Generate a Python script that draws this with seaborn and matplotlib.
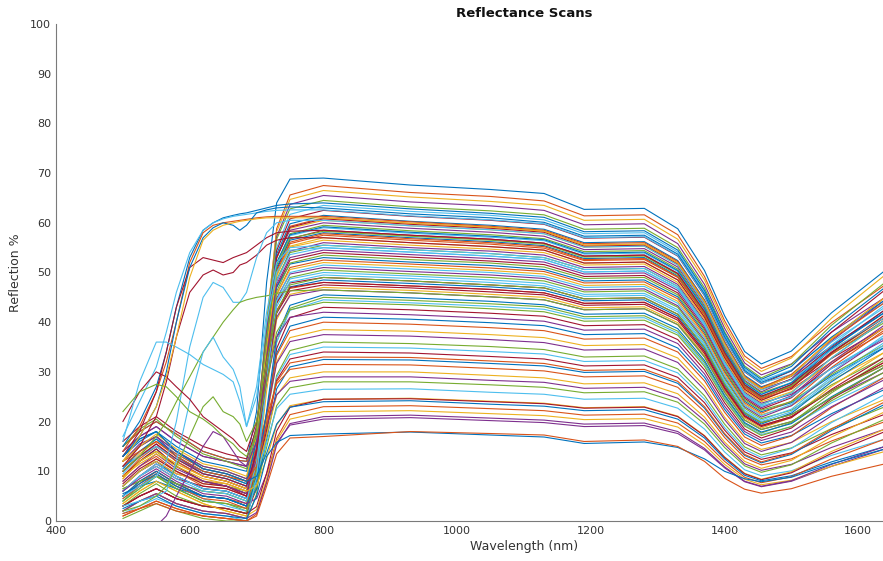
import matplotlib
matplotlib.use("Agg")
import matplotlib.pyplot as plt
import pandas as pd
import seaborn as sns

# ---------------- data ----------------
normal_wavelengths = [500, 525, 550, 580, 620, 655, 685, 700, 715, 730, 750,
                      800, 930, 1050, 1130, 1190, 1280, 1330, 1370, 1400, 1430, 1455, 1500, 1560, 1640]

special_wavelengths = [500, 525, 550, 565, 580, 600, 620, 635, 650, 665, 675, 685, 700, 715, 730, 750,
                       800, 930, 1050, 1130, 1190, 1280, 1330, 1370, 1400, 1430, 1455, 1500, 1560, 1640]

scans_high_nir = [
    [15, 18, 20, 17.5, 14, 12.5, 12, 22, 48, 64, 68.8, 69, 67.6, 66.7, 65.9, 62.7, 62.9, 58.8, 50.4, 41.3, 34.1, 31.6, 34.2, 41.9, 50.4],
    [8, 11, 13, 10, 7, 6.5, 5, 15.6, 39.4, 58.8, 65.6, 67.5, 66.1, 65.3, 64.4, 61.4, 61.6, 57.6, 49.2, 40.3, 33.2, 30.7, 33.1, 39.9, 47.5],
    [10, 13.5, 16, 13, 10, 9, 7.5, 17.5, 40, 58.2, 64.7, 66.5, 65.2, 64.3, 63.5, 60.5, 60.7, 56.7, 48.5, 39.6, 32.5, 30.1, 32.8, 40.8, 49.5],
    [7, 10, 12, 9.5, 8, 7.5, 6, 16.1, 38.7, 57.2, 63.7, 65.5, 64.2, 63.4, 62.5, 59.6, 59.8, 55.8, 47.6, 38.8, 31.8, 29.4, 31.6, 38.0, 45.0],
    [12, 15, 17, 14, 11, 10, 8.5, 18, 39.3, 56.7, 62.8, 64.5, 63.2, 62.4, 61.6, 58.7, 58.9, 55.0, 46.9, 38.1, 31.2, 28.8, 31.5, 39.4, 48.0],
    [4, 6.5, 9, 6.5, 4, 3.5, 2.5, 12.9, 36.1, 55, 61.7, 63.5, 62.3, 61.5, 60.6, 57.8, 58.0, 54.1, 46.1, 37.4, 30.6, 28.2, 30.4, 36.9, 44.0],
    [6, 9, 11.5, 9, 6.5, 6, 4.5, 14.4, 36.4, 54.4, 60.8, 62.5, 61.3, 60.5, 59.7, 56.9, 57.1, 53.3, 45.3, 36.7, 30.0, 27.6, 30.2, 38.0, 46.5],
    [9, 12, 14.5, 11, 8, 7, 5.5, 15, 36.3, 53.7, 59.8, 61.5, 60.3, 59.5, 58.7, 56.0, 56.2, 52.4, 44.5, 36.1, 29.3, 27.0, 29.1, 35.3, 42.0],
    [5, 8, 10, 7.5, 5, 4.5, 3, 12.9, 34.9, 52.9, 59.3, 61, 59.9, 59.1, 58.3, 55.5, 55.7, 51.9, 44.1, 35.6, 28.9, 26.6, 29.2, 36.7, 45.0],
    [8.5, 12, 14, 11.5, 9, 8, 6.5, 15.7, 36.2, 52.9, 58.9, 60.5, 59.4, 58.6, 57.8, 55.1, 55.3, 51.5, 43.7, 35.4, 28.7, 26.4, 28.4, 34.4, 41.0],
    [14, 17, 19, 16, 13, 12, 11, 19.3, 38, 53.1, 58.5, 60, 58.9, 58.1, 57.3, 54.6, 54.8, 51.1, 43.3, 34.9, 28.3, 26.0, 28.6, 36.2, 44.5],
    [6.5, 8, 9, 7.5, 6, 5.5, 4, 13.4, 34.5, 51.7, 57.8, 59.5, 58.4, 57.6, 56.8, 54.2, 54.4, 50.7, 43.0, 34.7, 28.1, 25.8, 27.8, 33.6, 40.0],
    [11, 13, 15, 12.5, 9.5, 8.5, 7, 15.8, 35.6, 51.7, 57.4, 59, 57.9, 57.1, 56.4, 53.7, 53.9, 50.2, 42.5, 34.2, 27.7, 25.4, 27.9, 35.4, 43.5],
    [3, 5, 6.5, 4.5, 3, 2.5, 1.5, 11.2, 32.9, 50.5, 56.8, 58.5, 57.5, 56.7, 55.9, 53.3, 53.5, 49.8, 42.1, 33.9, 27.4, 25.1, 27.0, 32.7, 39.0],
    [13, 16.5, 18, 14, 10.5, 9.5, 8, 16.5, 35.5, 51, 56.5, 58, 57.0, 56.2, 55.4, 52.8, 53.0, 49.3, 41.8, 33.6, 27.1, 24.9, 27.4, 34.6, 42.5],
    [1, 2.5, 4, 2.5, 1, 0.5, 0, 9.8, 31.6, 49.5, 55.8, 57.5, 56.5, 55.7, 54.9, 52.4, 52.6, 49.0, 41.4, 33.3, 26.8, 24.6, 26.5, 32.0, 38.0],
    [3.5, 6, 8, 6, 3.5, 2, 1, 10.5, 31.8, 49.2, 55.3, 57, 56.0, 55.2, 54.5, 51.9, 52.1, 48.5, 41.0, 32.9, 26.5, 24.3, 26.7, 33.8, 41.5],
    [2, 4, 5.5, 3.5, 2, 1.5, 0.5, 9.9, 31, 48.2, 54.3, 56, 55.0, 54.3, 53.5, 51.0, 51.2, 47.6, 40.2, 32.2, 25.9, 23.7, 25.5, 30.7, 36.5],
    [9, 12, 14, 11, 8, 7, 6, 14.4, 33.2, 48.6, 54, 55.5, 54.6, 53.8, 53.0, 50.6, 50.8, 47.2, 39.8, 31.9, 25.6, 23.4, 25.8, 32.8, 40.5],
    [11, 14, 16.5, 13.5, 10.5, 9.5, 8, 16, 33.9, 48.4, 53.6, 55, 54.1, 53.3, 52.6, 50.1, 50.3, 46.8, 39.4, 31.5, 25.3, 23.1, 25.0, 30.7, 37.0],
    [6, 9, 11, 8.5, 7, 6.5, 5, 13.3, 32, 47.1, 52.5, 54, 53.1, 52.3, 51.6, 49.2, 49.4, 45.9, 38.6, 30.8, 24.7, 22.5, 24.8, 31.6, 39.0],
    [13, 16, 18, 15, 12, 11, 10, 17.3, 33.7, 47, 51.7, 53, 52.1, 51.4, 50.6, 48.3, 48.5, 45.1, 37.9, 30.2, 24.1, 22.0, 23.8, 29.2, 35.0],
    [5, 7.5, 10, 7.5, 5, 4.5, 3.5, 11.8, 30.5, 45.6, 51, 52.5, 51.7, 50.9, 50.2, 47.9, 48.1, 44.7, 37.5, 29.9, 23.8, 21.7, 24.1, 30.9, 38.5],
    [7, 10, 12.5, 10, 7.5, 7, 5.5, 13.4, 31.1, 45.5, 50.6, 52, 51.2, 50.4, 49.7, 47.4, 47.6, 44.2, 37.1, 29.5, 23.5, 21.4, 23.2, 28.3, 34.0],
    [10, 13, 15.5, 12, 9, 8, 6.5, 14.1, 31, 44.8, 49.7, 51, 50.2, 49.5, 48.8, 46.5, 46.7, 43.3, 36.4, 28.9, 23.0, 20.9, 23.2, 29.8, 37.0],
    [4, 7, 9, 6.5, 4, 3.5, 2, 10.2, 28.7, 43.7, 49, 50.5, 49.7, 49.0, 48.3, 46.1, 46.3, 43.0, 36.0, 28.6, 22.7, 20.6, 22.3, 27.4, 33.0],
    [9.5, 13, 15, 12.5, 10, 9, 7.5, 14.7, 30.9, 44.1, 48.7, 50, 49.3, 48.5, 47.8, 45.6, 45.8, 42.5, 35.6, 28.2, 22.3, 20.3, 22.5, 28.9, 36.0],
    [16, 19, 21, 18, 15, 13.5, 12.5, 18.7, 32.6, 43.9, 47.9, 49, 48.3, 47.5, 46.9, 44.7, 44.9, 41.6, 34.9, 27.6, 21.8, 19.8, 21.4, 26.2, 31.5],
    [5.5, 7, 8, 6.5, 5, 4.5, 3, 10.7, 28, 42.1, 47.1, 48.5, 47.8, 47.1, 46.4, 44.3, 44.5, 41.2, 34.5, 27.3, 21.5, 19.5, 21.7, 28.0, 35.0],
    [12, 14, 16, 13.5, 10.5, 9.5, 8, 14.8, 30, 42.4, 46.8, 48, 47.3, 46.6, 45.9, 43.8, 44.0, 40.8, 34.1, 26.9, 21.2, 19.2, 21.0, 26.2, 32.0],
    [2, 4, 5.5, 3.5, 2, 1.5, 0.5, 8.4, 26.1, 40.5, 45.6, 47, 46.4, 45.6, 45.0, 42.9, 43.1, 39.9, 33.3, 26.3, 20.7, 18.7, 20.8, 27.1, 34.0],
    [12, 15.5, 17, 13, 9.5, 8.5, 7, 13.7, 28.7, 41, 45.3, 46.5, 45.9, 45.1, 44.5, 42.5, 42.7, 39.5, 33.0, 25.9, 20.3, 18.4, 20.0, 24.8, 30.0],
]

scans_mid_nir = [
    [0.5, 2, 3.5, 2, 0.5, 0, 0, 5.4, 20.3, 36, 42.8, 45, 44.4, 43.7, 43.1, 41.1, 41.3, 38.2, 31.9, 25.0, 19.6, 17.7, 19.8, 25.8, 32.5],
    [4.5, 7, 9, 7, 4.5, 3, 2, 7.1, 21.1, 36, 42.4, 44.5, 43.9, 43.2, 42.6, 40.7, 40.9, 37.8, 31.5, 24.7, 19.3, 17.4, 19.0, 23.8, 29.0],
    [3, 5, 6.5, 4.5, 3, 2.5, 1.5, 6.5, 20.2, 34.7, 40.9, 43, 42.5, 41.8, 41.2, 39.3, 39.5, 36.5, 30.4, 23.8, 18.5, 16.7, 18.7, 24.6, 31.0],
    [7, 10, 12, 9, 6.5, 6, 4.5, 8.9, 20.9, 33.7, 39.2, 41, 40.6, 39.9, 39.3, 37.5, 37.7, 34.8, 28.9, 22.5, 17.5, 15.7, 17.2, 21.6, 26.5],
    [9, 12.5, 15, 12, 9, 8, 6.5, 10.5, 21.6, 33.3, 38.3, 40, 39.6, 38.9, 38.3, 36.6, 36.8, 34.0, 28.2, 21.9, 16.9, 15.2, 17.1, 22.8, 29.0],
    [7, 10, 12, 9.5, 8, 7.5, 6, 9.9, 20.6, 32, 36.9, 38.5, 38.2, 37.5, 36.9, 35.3, 35.5, 32.8, 27.1, 20.9, 16.1, 14.4, 15.8, 20.0, 24.5],
    [12, 15, 17, 14, 11, 10, 8.5, 12, 21.6, 31.7, 36.1, 37.5, 37.2, 36.5, 35.9, 34.4, 34.6, 31.9, 26.4, 20.4, 15.6, 14.0, 15.8, 21.2, 27.0],
    [4, 6.5, 9, 6.5, 4, 3.5, 2.5, 6.5, 17.6, 29.3, 34.3, 36, 35.7, 35.1, 34.5, 33.0, 33.2, 30.6, 25.2, 19.5, 14.9, 13.3, 14.7, 18.6, 23.0],
    [6, 9, 11.5, 9, 6.5, 6, 4.5, 8.2, 18.2, 28.9, 33.5, 35, 34.8, 34.1, 33.6, 32.1, 32.3, 29.8, 24.5, 18.8, 14.4, 12.8, 14.6, 19.8, 25.5],
    [9, 12, 14.5, 11, 8, 7, 5.5, 8.9, 18.3, 28.3, 32.6, 34, 33.8, 33.1, 32.6, 31.2, 31.4, 28.9, 23.8, 18.3, 13.9, 12.4, 13.7, 17.4, 21.5],
    [5, 8, 10, 7.5, 5, 4.5, 3, 6.5, 16.3, 26.6, 31, 32.5, 32.4, 31.7, 31.2, 29.9, 30.1, 27.7, 22.7, 17.4, 13.2, 11.7, 13.4, 18.2, 23.5],
    [15, 18, 20, 17.5, 14, 12.5, 12, 14.3, 20.8, 27.6, 30.5, 31.5, 31.4, 30.7, 30.2, 29.0, 29.2, 26.9, 22.0, 16.8, 12.7, 11.3, 12.5, 16.1, 20.0],
    [8.5, 12, 14, 11.5, 9, 8, 6.5, 9.3, 17.1, 25.3, 28.8, 30, 30.0, 29.3, 28.8, 27.6, 27.8, 25.6, 20.9, 15.9, 12.0, 10.6, 12.2, 16.9, 22.0],
    [14, 17, 19, 16, 13, 12, 11, 13.2, 19.1, 25.4, 28.1, 29, 29.0, 28.3, 27.9, 26.7, 26.9, 24.7, 20.2, 15.4, 11.5, 10.2, 11.4, 14.8, 18.5],
    [6.5, 8, 9, 7.5, 6, 5.5, 4, 6.9, 14.8, 23.2, 26.8, 28, 28.0, 27.4, 26.9, 25.8, 26.0, 23.9, 19.5, 14.8, 11.1, 9.8, 11.3, 15.7, 20.5],
    [11, 13, 15, 12.5, 9.5, 8.5, 7, 9.3, 15.8, 22.6, 25.5, 26.5, 26.6, 25.9, 25.5, 24.5, 24.7, 22.7, 18.5, 13.9, 10.3, 9.1, 10.1, 13.2, 16.5],
]

scans_extra = [
    [7.5, 10.5, 12.5, 10, 7.5, 7, 5, 14.5, 35.7, 53, 59.1, 60.8, 59.7, 58.9, 58.1, 55.3, 55.5, 51.7, 43.9, 35.5, 28.8, 26.5, 28.5, 35.0, 42.5],
    [10.5, 14, 16.5, 13, 10, 9, 7.5, 16.3, 35.9, 52, 57.6, 59.2, 58.1, 57.3, 56.6, 53.9, 54.1, 50.4, 42.7, 34.4, 27.8, 25.5, 27.8, 34.8, 42.0],
    [4.5, 7, 9.5, 7, 4.5, 4, 2.5, 11.9, 32.9, 50.1, 56.1, 57.8, 56.8, 56.0, 55.2, 52.6, 52.8, 49.1, 41.6, 33.4, 27.0, 24.7, 27.0, 33.5, 40.5],
    [12, 15, 17.5, 14.5, 11.5, 10.5, 9, 17.1, 35.1, 49.9, 55.1, 56.5, 55.5, 54.7, 54.0, 51.5, 51.7, 48.0, 40.6, 32.5, 26.2, 24.0, 26.0, 32.0, 39.0],
    [8, 11, 13.5, 10.5, 8, 7, 5.5, 13.8, 32.5, 47.6, 53, 54.5, 53.6, 52.8, 52.1, 49.7, 49.9, 46.4, 39.0, 31.2, 25.0, 22.8, 25.2, 32.0, 39.5],
    [3, 5.5, 7.5, 5, 3, 2.5, 1.5, 10.3, 30.1, 46.2, 51.9, 53.5, 52.6, 51.9, 51.1, 48.8, 49.0, 45.5, 38.3, 30.5, 24.4, 22.3, 24.0, 29.5, 35.5],
    [6, 9, 11, 8.5, 6, 5.5, 4, 11.7, 29, 43.1, 48.1, 49.5, 48.8, 48.0, 47.3, 45.2, 45.4, 42.1, 35.3, 27.9, 22.0, 20.0, 22.0, 28.5, 35.5],
    [10, 13, 15.5, 12.5, 9.5, 8.5, 7, 13.9, 29.3, 41.8, 46.3, 47.5, 46.9, 46.1, 45.5, 43.4, 43.6, 40.4, 33.7, 26.6, 21.0, 19.0, 20.8, 26.5, 33.0],
    [5, 7.5, 9.5, 7, 5, 4.5, 3, 8.1, 22.1, 37, 43.4, 45.5, 44.9, 44.2, 43.5, 41.6, 41.8, 38.7, 32.3, 25.3, 19.8, 17.9, 19.6, 25.0, 31.0],
    [11, 14, 16, 13, 10, 9, 8, 11, 19.3, 28, 31.8, 33, 32.9, 32.2, 31.7, 30.3, 30.5, 28.1, 23.0, 17.6, 13.4, 11.9, 13.6, 18.5, 24.0],
    [9, 11.5, 13.5, 11, 8.5, 7.5, 6, 7.1, 12.5, 19.3, 23.2, 24.5, 24.7, 24.1, 23.7, 22.8, 23.0, 21.1, 17.2, 12.9, 9.6, 8.4, 9.9, 14.0, 18.5],
    [6, 8.5, 10.5, 8, 5.5, 5, 3.5, 4.5, 9.5, 15.7, 19.3, 20.5, 20.8, 20.2, 19.8, 19.0, 19.2, 17.6, 14.3, 10.7, 7.9, 6.9, 8.0, 11.0, 14.5],
    [15, 18.5, 20.5, 17, 13.5, 12, 10.5, 18.6, 36.8, 51.6, 56.9, 58.3, 57.3, 56.5, 55.7, 53.1, 53.3, 49.6, 41.9, 33.8, 27.3, 25.0, 27.2, 33.8, 41.0],
    [1.5, 3, 4.5, 3, 1.5, 1, 0, 8.8, 28.3, 44.3, 50, 51.5, 50.7, 50.0, 49.2, 47.0, 47.2, 43.8, 36.8, 29.2, 23.3, 21.2, 23.5, 30.0, 37.5],
]

scans_low_nir = [
    [3, 5, 6.5, 4.5, 3, 2.5, 1.5, 2.9, 9.6, 18.1, 22.9, 24.5, 24.6, 24.0, 23.6, 22.7, 22.9, 21.0, 17.1, 12.8, 9.5, 8.3, 9.7, 13.6, 18.0],
    [13, 16.5, 18, 14, 10.5, 9.5, 8, 9, 13.6, 19.5, 22.9, 24, 24.2, 23.5, 23.1, 22.2, 22.4, 20.5, 16.7, 12.5, 9.2, 8.1, 9.1, 11.9, 15.0],
    [1, 2.5, 4, 2.5, 1, 0.5, 0, 1.4, 8.1, 16.6, 21.4, 23, 23.2, 22.6, 22.2, 21.3, 21.5, 19.7, 16.0, 12.0, 8.8, 7.7, 8.9, 12.5, 16.5],
    [3.5, 6, 8, 6, 3.5, 2, 1, 2.3, 8.4, 16.1, 20.5, 22, 22.2, 21.6, 21.2, 20.4, 20.6, 18.9, 15.3, 11.4, 8.4, 7.3, 8.2, 11.0, 14.0],
    [2, 4, 5.5, 3.5, 2, 1.5, 0.5, 1.7, 7.7, 15.3, 19.6, 21, 21.3, 20.7, 20.3, 19.5, 19.7, 18.0, 14.6, 10.9, 8.0, 7.0, 8.1, 11.4, 15.0],
    [2.5, 4, 5, 3, 1.5, 1, 0.5, 5, 13, 15.8, 17.2, 17.5, 17.9, 17.3, 16.9, 15.6, 15.9, 14.8, 12.5, 10.0, 8.5, 7.9, 8.8, 11.5, 14.5],
    [1.5, 2.5, 3.5, 2, 1, 0.5, 0, 1, 7, 13.5, 16.7, 17, 18.0, 17.6, 17.3, 16.0, 16.3, 15.0, 12.0, 8.6, 6.4, 5.6, 6.5, 9.0, 11.5],
]

scans_visible_anomalies = [
    [15, 20, 27, 34, 43, 53, 58.5, 60, 61, 61.5, 61.8, 62, 62.5, 63, 63.5, 63.8, 64, 62.8, 61.9, 61.1, 58.2, 58.4, 54.5, 46.4, 37.8, 30.9, 28.5, 31.1, 38.7, 47.0],
    [17, 24, 31, 38, 46, 54, 58.5, 60, 60.8, 61.3, 61.5, 61.7, 62, 62.3, 62.5, 62.6, 62.6, 61.4, 60.6, 59.8, 57.0, 57.2, 53.4, 45.4, 36.8, 30.1, 27.7, 29.5, 36.0, 43.0],
    [14, 19, 26, 32, 40, 52, 58, 59.5, 60, 60.3, 60.5, 60.7, 61, 61.2, 61.3, 61.3, 61.3, 60.2, 59.3, 58.5, 55.8, 56.0, 52.2, 44.3, 35.9, 29.1, 26.8, 29.5, 36.5, 44.0],
    [13, 18, 26, 34, 43, 51, 53, 52.5, 52, 53, 53.5, 54, 55.5, 57, 58, 58.3, 58.5, 57.5, 56.7, 55.9, 53.3, 53.5, 49.8, 42.1, 33.9, 27.4, 25.1, 27.5, 34.0, 41.0],
    [11, 15, 21, 28, 37, 46, 49.5, 50.5, 49.5, 50, 51.5, 52, 53.5, 55.5, 56.5, 57, 57, 56.0, 55.2, 54.5, 51.9, 52.1, 48.5, 41.0, 32.9, 26.5, 24.3, 26.7, 33.8, 41.5],
    [5, 7, 9, 12, 20, 35, 45, 48, 47, 44, 44, 46, 53, 58, 60, 60.5, 60.5, 59.4, 58.6, 57.8, 55.1, 55.3, 51.5, 43.7, 35.4, 28.7, 26.4, 28.4, 34.4, 41.0],
    [10, 13, 17, 20, 24, 29, 34, 37, 40, 42.5, 44, 44.5, 45, 45.3, 45.8, 46.3, 46.5, 45.9, 45.1, 44.5, 42.5, 42.7, 39.5, 33.0, 25.9, 20.3, 18.4, 20.0, 24.8, 31.0],
    [3, 4, 5, 6, 12, 24, 34, 37, 33, 30.5, 27, 19, 27, 42, 52, 55, 55.5, 54.6, 53.8, 53.0, 50.6, 50.8, 47.2, 39.8, 31.9, 25.6, 23.4, 25.8, 32.8, 40.5],
    [20, 26, 30, 29, 27, 24.5, 21, 19.5, 18, 16.5, 15, 14, 20, 32, 42, 47, 48, 47.3, 46.6, 45.9, 43.8, 44.0, 40.8, 34.1, 26.9, 21.2, 19.2, 21.0, 26.2, 32.0],
    [2, 3, 5, 7, 11, 17, 23, 25, 22, 21, 19.5, 16, 20, 32, 42, 47.5, 49, 48.3, 47.5, 46.9, 44.7, 44.9, 41.6, 34.9, 27.6, 21.8, 19.8, 21.4, 26.2, 31.5],
    [-2, -2, -1, 1, 5, 10, 15, 18, 17, 14, 12, 11, 16, 28, 37, 41, 42, 41.5, 40.8, 40.2, 38.4, 38.6, 35.7, 29.6, 23.1, 18.0, 16.2, 17.9, 23.0, 28.5],
    [13, 17, 23, 30, 40, 51, 57, 59, 60, 59.5, 58.5, 59.5, 62, 62.6, 63, 63.2, 63, 61.8, 61.0, 60.1, 57.3, 57.5, 53.7, 45.7, 37.1, 30.3, 27.9, 30.2, 37.0, 44.5],
    [16, 28, 36, 36, 35, 33.5, 31.5, 30.5, 29.5, 28, 24, 19, 25, 40, 50, 54.5, 55, 54.1, 53.3, 52.6, 50.1, 50.3, 46.8, 39.4, 31.5, 25.3, 23.1, 25.0, 30.7, 37.0],
    [22, 26, 27.5, 27, 25, 22, 20.5, 19, 17, 15.5, 14, 13, 17, 28, 38, 42.5, 44, 43.5, 42.7, 42.1, 40.2, 40.4, 37.4, 31.1, 24.4, 19.1, 17.2, 19.0, 24.2, 30.0],
    [12, 17, 23, 29, 37, 49, 56.5, 58.5, 59.5, 60, 60.3, 60.5, 60.8, 61, 61, 61, 61, 59.9, 59.1, 58.3, 55.5, 55.7, 51.9, 44.1, 35.6, 28.9, 26.6, 29.2, 36.7, 45.0],
]

x_ticks = [400, 600, 800, 1000, 1200, 1400, 1600]
y_ticks = [0, 10, 20, 30, 40, 50, 60, 70, 80, 90, 100]

# ---------------- styling ----------------
matlab_colors = ["#0072BD", "#D95319", "#EDB120", "#7E2F8E", "#77AC30", "#4DBEEE", "#A2142F"]
anomaly_colors = ["#0072BD", "#4DBEEE", "#D95319", "#A2142F", "#A2142F", "#4DBEEE", "#77AC30",
                  "#4DBEEE", "#A2142F", "#77AC30", "#7E2F8E", "#0072BD", "#4DBEEE", "#77AC30", "#EDB120"]

records = []
palette = {}
normal_scans = scans_high_nir + scans_mid_nir + scans_extra + scans_low_nir
for i, vals in enumerate(normal_scans):
    assert len(vals) == len(normal_wavelengths), (i, len(vals))
    name = f"scan{i:03d}"
    palette[name] = matlab_colors[i % 7]
    for w, v in zip(normal_wavelengths, vals):
        records.append((name, w, v))
# the two lowest scans: blue and orange as in the reference
palette[f"scan{len(normal_scans)-2:03d}"] = "#0072BD"
palette[f"scan{len(normal_scans)-1:03d}"] = "#D95319"
for j, vals in enumerate(scans_visible_anomalies):
    assert len(vals) == len(special_wavelengths), (j, len(vals))
    name = f"anom{j:03d}"
    palette[name] = anomaly_colors[j]
    for w, v in zip(special_wavelengths, vals):
        records.append((name, w, v))

df = pd.DataFrame(records, columns=["scan", "wavelength", "reflectance"])

sns.set_theme(style="white")
plt.rcParams["font.family"] = ["DejaVu Sans"]

fig = plt.figure(figsize=(8.83, 5.61), dpi=100)
# axes run 400..1800 nm; the picture is cropped at ~1634 nm like the reference
ax = fig.add_axes([56 / 883, 40 / 561, 936 / 883, 497 / 561])

sns.lineplot(data=df, x="wavelength", y="reflectance", hue="scan", palette=palette,
             estimator=None, sort=False, legend=False, linewidth=0.8, ax=ax)

ax.set_xlim(400, 1800)
ax.set_ylim(0, 100)
ax.set_xticks(x_ticks)
ax.set_yticks(y_ticks)
ax.tick_params(direction="in", length=6.5, width=0.6, colors="#6e6e6e",
               labelcolor="#333333", labelsize=8, pad=3.5)
for side in ["top", "right"]:
    ax.spines[side].set_visible(False)
for side in ["left", "bottom"]:
    ax.spines[side].set_color("#7a7a7a")
    ax.spines[side].set_linewidth(0.8)

ax.set_title("Reflectance Scans", fontsize=9.5, fontweight="bold", color="#111111", pad=5)
ax.set_xlabel("Wavelength (nm)", fontsize=9, color="#333333", labelpad=3)
ax.set_ylabel("Reflection %", fontsize=9, color="#333333", labelpad=6)

fig.savefig("out.png", dpi=100)
